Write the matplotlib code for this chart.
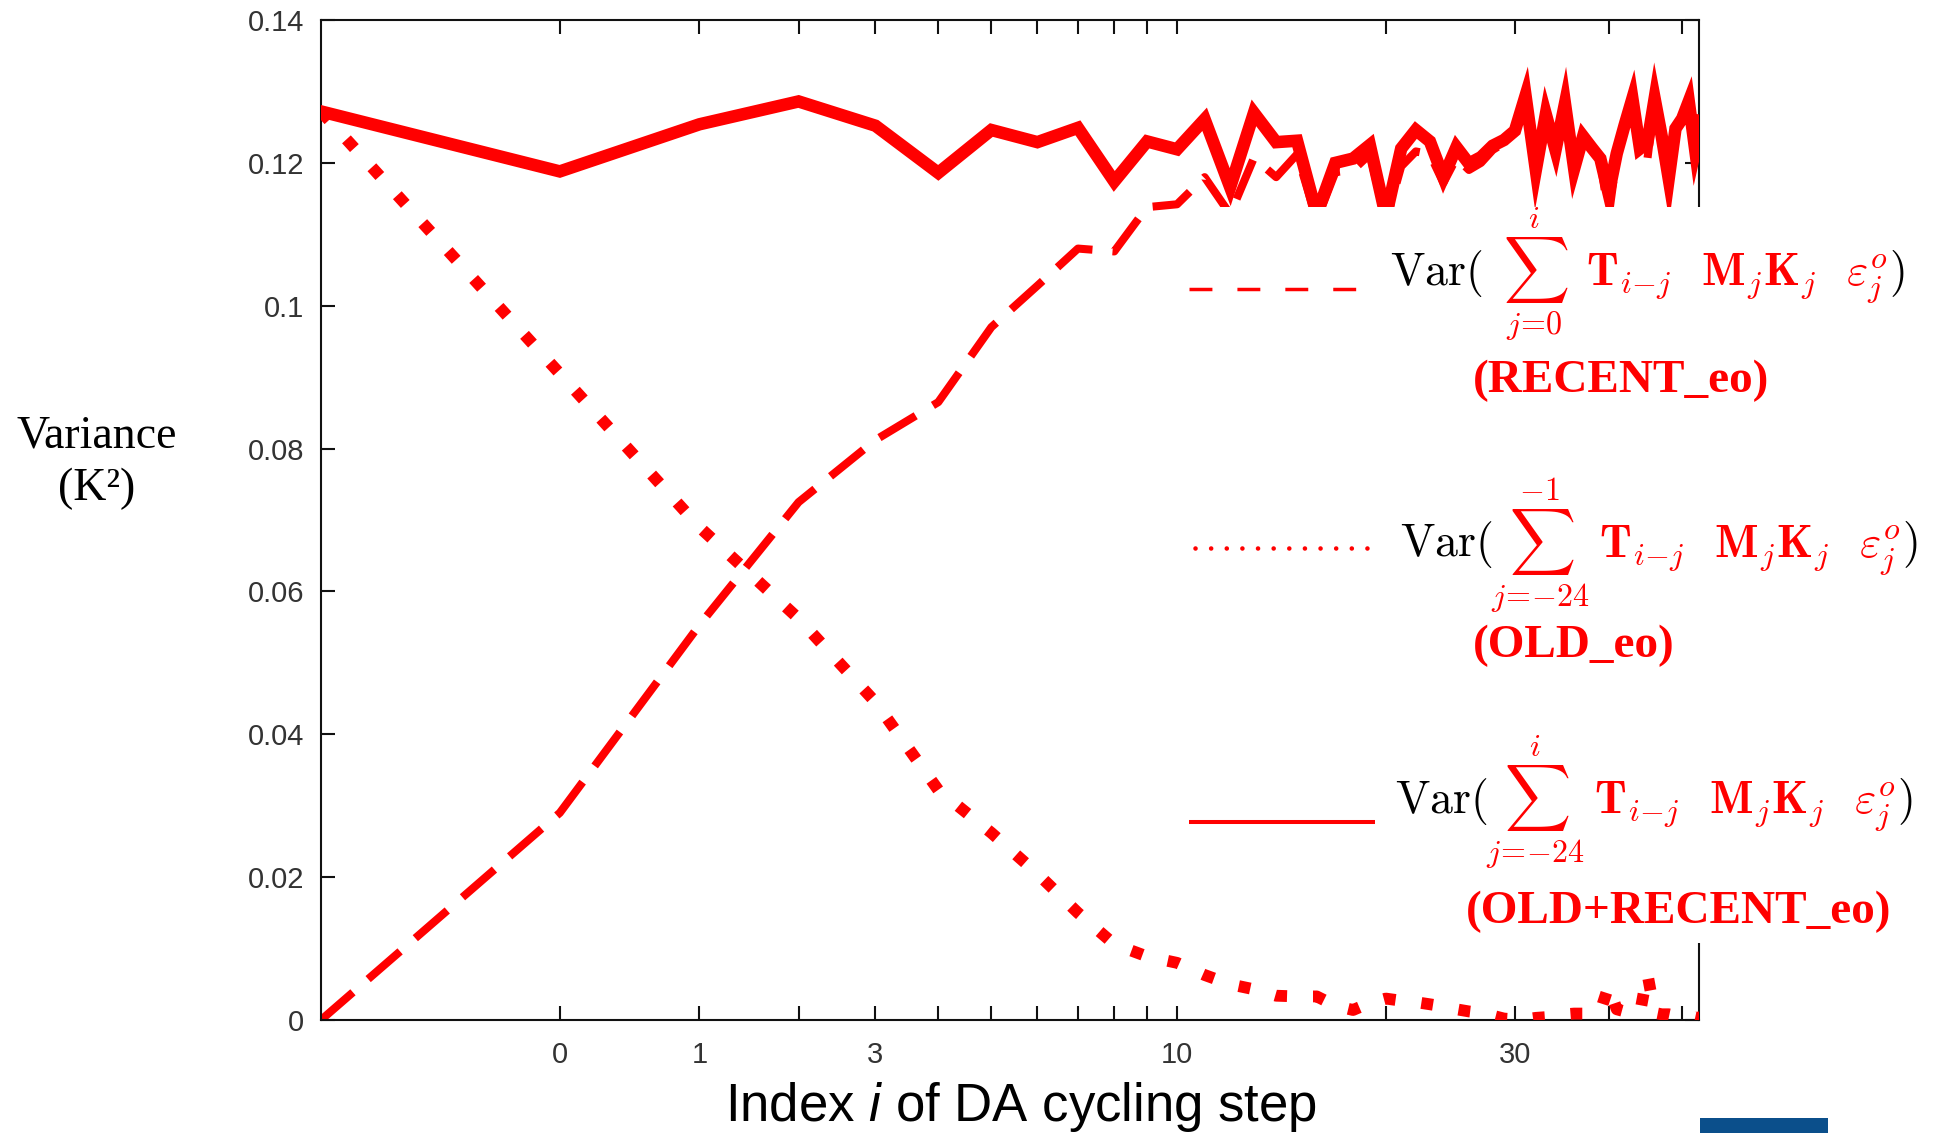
import numpy as np
import matplotlib
matplotlib.use("Agg")
import matplotlib.pyplot as plt
from matplotlib.patches import Rectangle
from matplotlib.lines import Line2D

# ---------------------------------------------------------------- data
steps = list(range(-1, 54))

var_total = [
    0.1272, 0.1188, 0.1254, 0.1286, 0.1252, 0.1186, 0.1246, 0.1229, 0.1249, 0.1174,
    0.1230, 0.1219, 0.1261, 0.1166, 0.1270, 0.1229, 0.1231, 0.1128, 0.1200, 0.1206,
    0.1225, 0.1125, 0.1220, 0.1246, 0.1230, 0.1180, 0.1222, 0.1199, 0.1208, 0.1224,
    0.1232, 0.1245, 0.1294, 0.1190, 0.1268, 0.1218, 0.1283, 0.1192, 0.1237, 0.1221,
    0.1206, 0.1157, 0.1213, 0.1253, 0.1290, 0.1220, 0.1228, 0.1290, 0.1237, 0.1178,
    0.1248, 0.1262, 0.1286, 0.1218, 0.1258,
]

var_recent = [
    0.0000, 0.0290, 0.0553, 0.0725, 0.0812, 0.0865, 0.0970, 0.1028, 0.1080, 0.1076,
    0.1138, 0.1142, 0.1180, 0.1128, 0.1207, 0.1180, 0.1212, 0.1120, 0.1187, 0.1190,
    0.1212, 0.1118, 0.1195, 0.1216, 0.1212, 0.1172, 0.1207, 0.1190, 0.1200, 0.1218,
    0.1228, 0.1242, 0.1292, 0.1187, 0.1266, 0.1214, 0.1281, 0.1189, 0.1234, 0.1219,
    0.1203, 0.1125, 0.1208, 0.1248, 0.1286, 0.1216, 0.1205, 0.1287, 0.1233, 0.1174,
    0.1244, 0.1258, 0.1283, 0.1215, 0.1255,
]

var_old = [
    0.1272, 0.0905, 0.0690, 0.0562, 0.0445, 0.0322, 0.0262, 0.0205, 0.0150, 0.0106,
    0.0089, 0.0080, 0.0063, 0.0050, 0.0043, 0.0034, 0.0033, 0.0033, 0.0020, 0.0014,
    0.0024, 0.0030, 0.0027, 0.0025, 0.0022, 0.0019, 0.0015, 0.0012, 0.0010, 0.0006,
    0.0002, 0.0001, 0.0001, 0.0003, 0.0004, 0.0007, 0.0008, 0.0009, 0.0009, 0.0010,
    0.0012, 0.0048, 0.0015, 0.0012, 0.0013, 0.0010, 0.0065, 0.0010, 0.0008, 0.0008,
    0.0006, 0.0005, 0.0005, 0.0003, 0.0004,
]

x_ticks = [0, 1, 2, 3, 4, 5, 6, 7, 8, 9, 10, 20, 30, 40, 50]
x_tick_labels = ["0", "1", "", "3", "", "", "", "", "", "", "10", "", "30", "", ""]
y_ticks = [0.0, 0.02, 0.04, 0.06, 0.08, 0.10, 0.12, 0.14]
y_tick_labels = ["0", "0.02", "0.04", "0.06", "0.08", "0.1", "0.12", "0.14"]

legend_limits = [(r"j\!=\!0", "i"), (r"j\!=\!{-}24", "{-}1"), (r"j\!=\!{-}24", "i")]
legend_names = ["(RECENT_eo)", "(OLD_eo)", "(OLD+RECENT_eo)"]

# ---------------------------------------------------------------- style
W, H = 1943, 1133
RED = "#ff0000"
plt.rcParams["font.family"] = ["Liberation Sans", "DejaVu Sans"]
plt.rcParams["mathtext.fontset"] = "custom"
plt.rcParams["mathtext.rm"] = "Liberation Sans"
plt.rcParams["mathtext.it"] = "Liberation Sans:italic"
plt.rcParams["mathtext.bf"] = "Liberation Sans:bold"

fig = plt.figure(figsize=(W / 100, H / 100), dpi=100)
ax = fig.add_axes([321 / W, 1 - 1020 / H, (1699 - 321) / W, (1020 - 20) / H])


def fwd(s):
    s = np.asarray(s, dtype=float)
    return np.log(np.maximum(s + 2.0, 1e-9))


def inv(u):
    return np.exp(np.asarray(u, dtype=float)) - 2.0


ax.set_xscale("function", functions=(fwd, inv))

# RECENT (dashed), OLD (dotted), OLD+RECENT (solid)
ax.plot(steps, var_recent, color=RED, lw=5.8,
        linestyle=(0, (5.25, 2.5)), dash_capstyle="butt", zorder=2)
ax.plot(steps, var_old, color=RED, lw=8.5,
        linestyle=(0, (1.0, 2.2)), dash_capstyle="butt", zorder=3)
ax.plot(steps, var_total, color=RED, lw=9.0,
        solid_joinstyle="miter", zorder=4)

ax.set_xlim(-1, np.exp(4) - 2)
ax.set_ylim(0, 0.14)
ax.set_xticks(x_ticks)
ax.set_xticklabels(x_tick_labels)
ax.xaxis.set_minor_locator(matplotlib.ticker.NullLocator())
ax.set_yticks(y_ticks)
ax.set_yticklabels(y_tick_labels)

ax.tick_params(axis="both", which="major", direction="in", length=10, width=1.5,
               top=True, right=True, labelsize=21, labelcolor="#333333",
               color="#111111")
ax.tick_params(axis="x", pad=15)
ax.tick_params(axis="y", pad=12)
for sp in ax.spines.values():
    sp.set_linewidth(1.5)
    sp.set_color("#111111")

# axis titles
fig.text(1021 / W, 1 - 1121 / H, r"Index $\mathit{i}$ of DA cycling step",
         fontsize=38, ha="center", va="baseline", color="black")
fig.text(97 / W, 1 - 447 / H, "Variance", fontsize=33,
         fontfamily="Liberation Serif", ha="center", va="baseline")
fig.text(97 / W, 1 - 500 / H, "(K²)", fontsize=33,
         fontfamily="Liberation Serif", ha="center", va="baseline")

# key panel on a white background laid over the plot area
fig.add_artist(Rectangle((1180 / W, 1 - 943 / H), 1 - 1180 / W, (943 - 207) / H,
                         transform=fig.transFigure, facecolor="white",
                         edgecolor="none", zorder=2))

samples = [
    dict(x=(1189, 1360), y=289, lw=2.5, ls=(0, (6.6, 7.2)), cap="butt"),
    dict(x=(1195, 1378), y=548, lw=3.3, ls=(0, (0.01, 3.4)), cap="round"),
    dict(x=(1189, 1375), y=822, lw=2.9, ls="-", cap="butt"),
]
for s in samples:
    fig.add_artist(Line2D([s["x"][0] / W, s["x"][1] / W], [1 - s["y"] / H] * 2,
                          transform=fig.transFigure, color=RED, lw=s["lw"],
                          linestyle=s["ls"], dash_capstyle=s["cap"],
                          solid_capstyle="butt", zorder=3))

renderer = fig.canvas.get_renderer()
FS = 33
row_left = [1390, 1400, 1395]
row_base = [285, 556, 813]
row_gap = [20, -2, -2]
row_space = [r"\;\;", r"\;", r"\;"]
for (lower, upper), xl, yb, gap, sp in zip(legend_limits, row_left, row_base,
                                           row_gap, row_space):
    y = 1 - yb / H
    t1 = fig.text(xl / W, y, r"$\mathrm{Var}($", color="black", fontsize=FS,
                  math_fontfamily="cm", ha="left", va="baseline", zorder=4)
    b1 = t1.get_window_extent(renderer=renderer)
    expr = (r"$\sum_{%s}^{%s}%s\mathbf{T}_{i{-}j}\;\;\,"
            r"\mathbf{M}_{j}\mathbf{K}_{j}\;\;\,\varepsilon_{j}^{o}$"
            % (lower, upper, sp))
    t2 = fig.text((b1.x1 + gap) / W, y, expr, color=RED, fontsize=FS,
                  math_fontfamily="cm", ha="left", va="baseline", zorder=4)
    b2 = t2.get_window_extent(renderer=renderer)
    fig.text((b2.x1 + 2) / W, y, r"$)$", color="black", fontsize=FS,
             math_fontfamily="cm", ha="left", va="baseline", zorder=4)

name_left = [1473, 1473, 1466]
name_base = [392, 657, 923]
for name, xl, yb in zip(legend_names, name_left, name_base):
    fig.text(xl / W, 1 - yb / H, name, color=RED, fontsize=34,
             fontfamily="Liberation Serif", fontweight="bold",
             ha="left", va="baseline", zorder=4)

# footer bar
fig.add_artist(Rectangle((1700 / W, 0), 128 / W, 15 / H, transform=fig.transFigure,
                         facecolor="#0b4f8b", edgecolor="none", zorder=2))

fig.savefig("out.png", dpi=100)
